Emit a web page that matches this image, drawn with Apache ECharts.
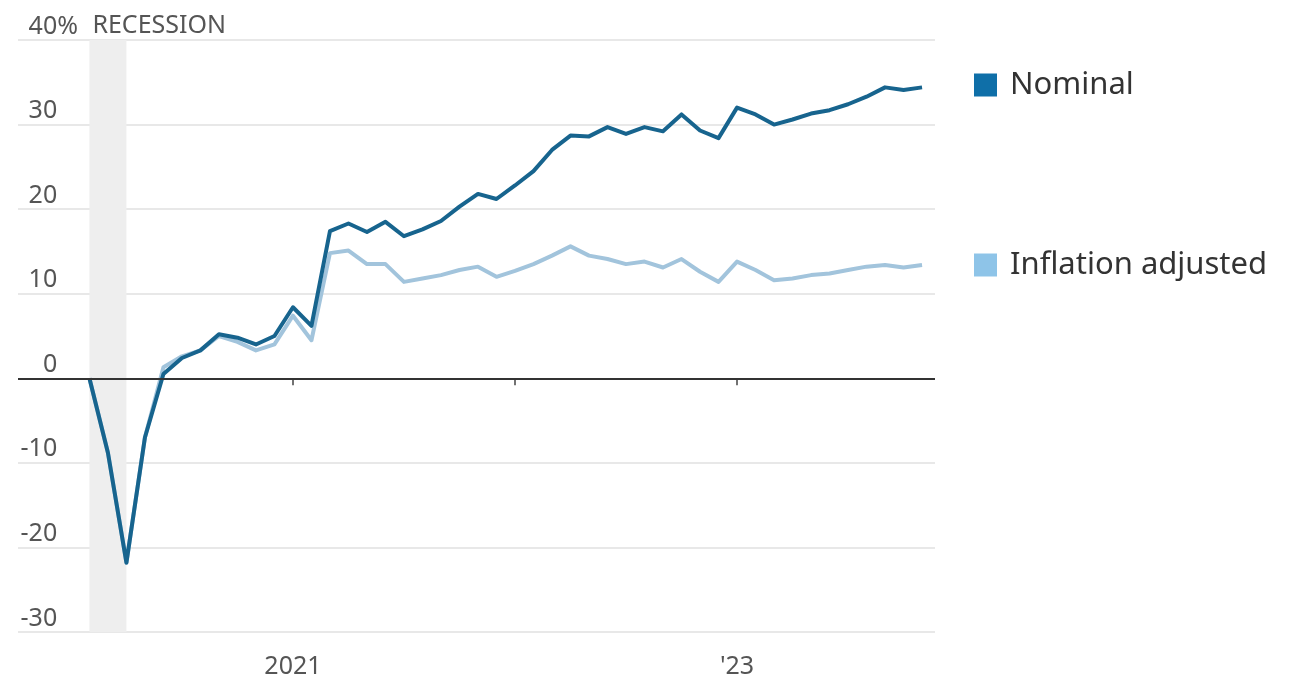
<!DOCTYPE html>
<html>
<head>
<meta charset="utf-8">
<script src="https://cdn.jsdelivr.net/npm/echarts@6/dist/echarts.min.js"></script>
<style>
  html, body { margin: 0; padding: 0; background: #ffffff; }
  #chart { width: 1298px; height: 683px; }
</style>
</head>
<body>
<div id="chart"></div>
<script>
// Monthly readings, Feb 2020 – Nov 2023 (percent change since Feb 2020)
const months = [
  '2020-02','2020-03','2020-04','2020-05','2020-06','2020-07','2020-08','2020-09','2020-10','2020-11','2020-12',
  '2021-01','2021-02','2021-03','2021-04','2021-05','2021-06','2021-07','2021-08','2021-09','2021-10','2021-11','2021-12',
  '2022-01','2022-02','2022-03','2022-04','2022-05','2022-06','2022-07','2022-08','2022-09','2022-10','2022-11','2022-12',
  '2023-01','2023-02','2023-03','2023-04','2023-05','2023-06','2023-07','2023-08','2023-09','2023-10','2023-11'
];
const nominal = [
  0, -8.8, -21.8, -7, 0.5, 2.4, 3.3, 5.2, 4.8, 4.0, 5.0,
  8.4, 6.2, 17.4, 18.3, 17.3, 18.5, 16.8, 17.6, 18.6, 20.3, 21.8, 21.2,
  22.8, 24.5, 27.0, 28.7, 28.6, 29.7, 28.9, 29.7, 29.2, 31.2, 29.3, 28.4,
  32.0, 31.2, 30.0, 30.6, 31.3, 31.7, 32.4, 33.3, 34.4, 34.1, 34.4
];
const inflationAdjusted = [
  0, -8.8, -21.8, -7, 1.3, 2.6, 3.3, 5.0, 4.3, 3.3, 4.0,
  7.4, 4.5, 14.8, 15.1, 13.5, 13.5, 11.4, 11.8, 12.2, 12.8, 13.2, 12.0,
  12.7, 13.5, 14.5, 15.6, 14.5, 14.1, 13.5, 13.8, 13.1, 14.1, 12.6, 11.4,
  13.8, 12.8, 11.6, 11.8, 12.2, 12.4, 12.8, 13.2, 13.4, 13.1, 13.4
];
const recession = ['2020-02', '2020-04'];
const tickMonths = ['2021-01', '2022-01', '2023-01'];
const tickLabels = ['2021', '', "'23"];
const yTicks = [-30, -20, -10, 0, 10, 20, 30, 40];

// months counted from Jan 2020, used as the x value
function monthIndex(s) {
  const [y, m] = s.split('-').map(Number);
  return (y - 2020) * 12 + (m - 1);
}
const toPoints = vals => months.map((m, i) => [monthIndex(m), vals[i]]);

const FONT = '"Noto Sans", "DejaVu Sans", sans-serif';
const tickValues = tickMonths.map(monthIndex);
const labelValues = tickValues.filter((v, i) => tickLabels[i] !== '');
const topTick = yTicks[yTicks.length - 1];

const chart = echarts.init(document.getElementById('chart'), null, { renderer: 'canvas' });
chart.setOption({
  animation: false,
  backgroundColor: '#ffffff',
  grid: { left: 18, right: 363, top: 40, bottom: 51, containLabel: false },
  xAxis: {
    type: 'value',
    min: -2.86,
    max: 46.7,
    splitLine: { show: false },
    axisLine: { show: false },
    axisTick: {
      show: true,
      customValues: tickValues,
      length: 7,
      lineStyle: { color: '#444', width: 1.5 }
    },
    axisLabel: {
      customValues: labelValues,
      margin: 22,
      fontFamily: FONT,
      fontSize: 25,
      color: '#555',
      formatter: v => tickLabels[tickValues.indexOf(v)]
    }
  },
  yAxis: {
    type: 'value',
    min: yTicks[0],
    max: topTick,
    interval: 10,
    axisLine: { show: false },
    axisTick: { show: false },
    splitLine: { lineStyle: { color: '#e8e8e8', width: 2 } },
    axisLabel: {
      inside: true,
      margin: 60,
      align: 'right',
      verticalAlign: 'bottom',
      padding: [0, 0, 1, 0],
      fontFamily: FONT,
      fontSize: 25,
      color: '#555',
      // the unit sign shows on the top label only; the others keep its width so digits line up
      formatter: v => v === topTick ? '{v|' + v + '}{p|%}' : '{v|' + v + '}{h|%}',
      rich: {
        v: { fontFamily: FONT, fontSize: 25, color: '#555' },
        p: { fontFamily: FONT, fontSize: 25, color: '#555' },
        h: { fontFamily: FONT, fontSize: 25, color: 'rgba(0,0,0,0)' }
      }
    }
  },
  legend: {
    data: ['Nominal', 'Inflation adjusted'],
    orient: 'vertical',
    left: 969,
    top: 63,
    icon: 'rect',
    itemWidth: 23,
    itemHeight: 23,
    itemGap: 146,
    selectedMode: false,
    textStyle: {
      fontFamily: FONT,
      fontSize: 31,
      color: '#333',
      lineHeight: 34,
      padding: [0, 0, 0, 8]
    }
  },
  series: [
    {
      name: 'recession',
      type: 'line',
      data: [],
      z: 1,
      silent: true,
      markArea: {
        silent: true,
        itemStyle: { color: '#eeeeee' },
        label: {
          show: true,
          position: [3, -14],
          verticalAlign: 'middle',
          fontFamily: FONT,
          fontSize: 25,
          color: '#555',
          formatter: 'RECESSION'
        },
        data: [[{ xAxis: monthIndex(recession[0]) }, { xAxis: monthIndex(recession[1]) }]]
      },
      markLine: {
        silent: true,
        symbol: 'none',
        label: { show: false },
        lineStyle: { color: '#333', width: 2, type: 'solid' },
        data: [{ yAxis: 0 }]
      }
    },
    {
      name: 'Inflation adjusted',
      type: 'line',
      z: 2,
      data: toPoints(inflationAdjusted),
      showSymbol: false,
      itemStyle: { color: '#8ec4e8' },
      lineStyle: { color: '#a2c4dc', width: 4, join: 'round' }
    },
    {
      name: 'Nominal',
      type: 'line',
      z: 3,
      data: toPoints(nominal),
      showSymbol: false,
      itemStyle: { color: '#0f6fa8' },
      lineStyle: { color: '#17648e', width: 4, join: 'round' }
    }
  ]
});
</script>
</body>
</html>
